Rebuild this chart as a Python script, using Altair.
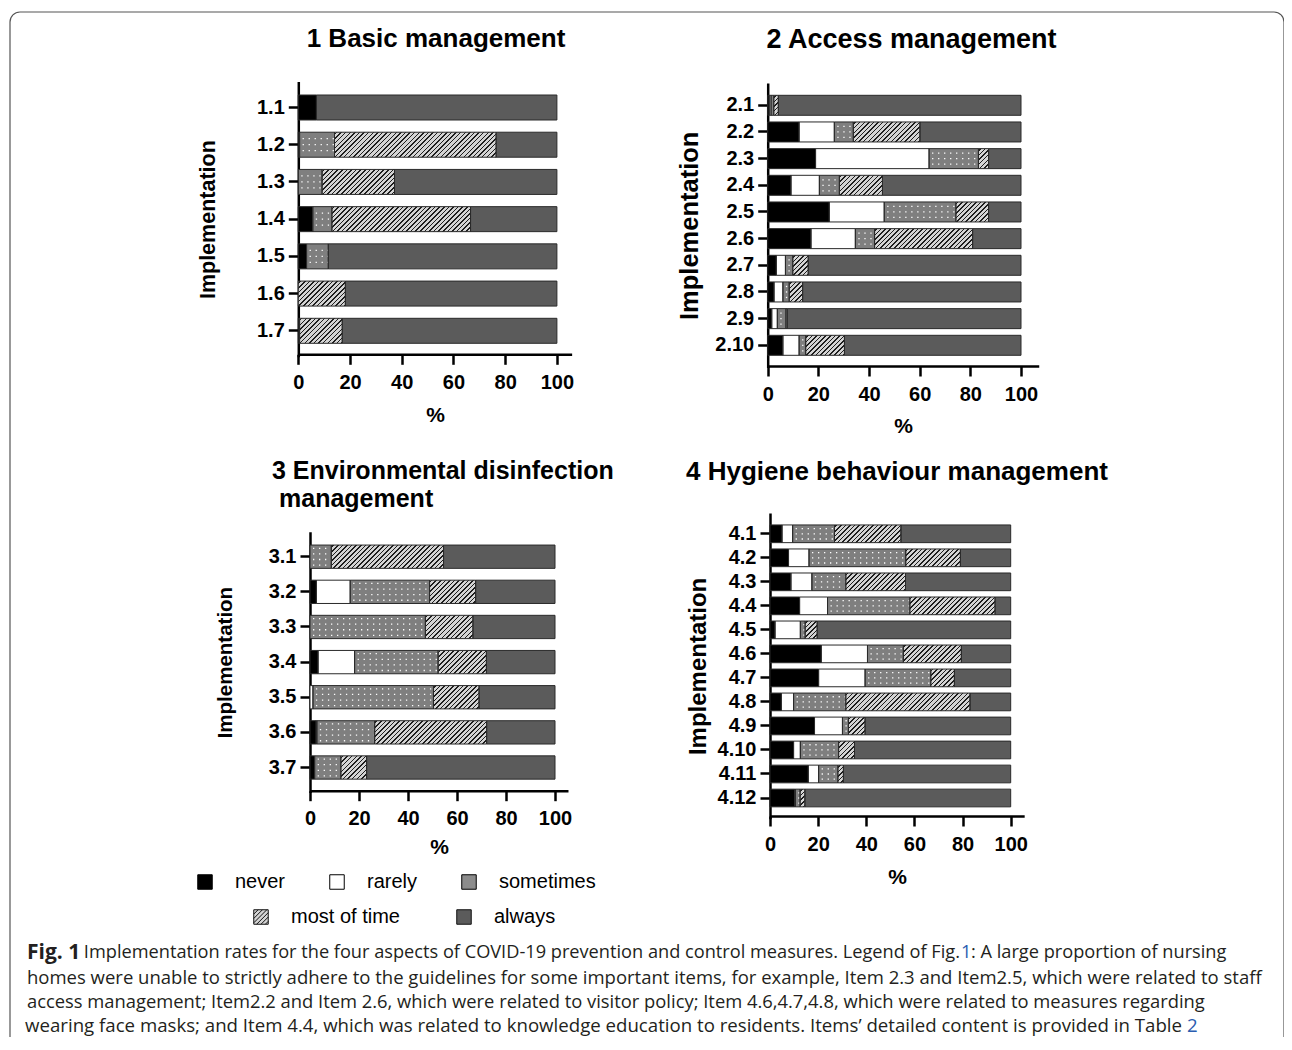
import math
import altair as alt
import pandas as pd

CATS = ["never", "rarely", "sometimes", "most of time", "always"]

# ---------------- data (percent of nursing homes) ----------------
p1_items = ["1.1", "1.2", "1.3", "1.4", "1.5", "1.6", "1.7"]
p1_never = [7.0, 0.5, 0, 5.6, 3.2, 0, 0.5]
p1_rarely = [0, 0, 0, 0, 0, 0, 0]
p1_sometimes = [0, 13.5, 9.2, 7.4, 8.4, 0, 0]
p1_most = [0, 62.5, 28.0, 53.6, 0, 18.2, 16.5]
p1_always = [93.0, 23.5, 62.8, 33.4, 88.4, 81.8, 83.0]

p2_items = ["2.1", "2.2", "2.3", "2.4", "2.5", "2.6", "2.7", "2.8", "2.9", "2.10"]
p2_never = [0.6, 12.4, 18.9, 9.2, 24.3, 17.1, 3.4, 2.5, 1.6, 6.0]
p2_rarely = [0.7, 13.9, 44.8, 11.2, 21.7, 17.5, 3.6, 3.5, 2.2, 6.4]
p2_sometimes = [1.1, 7.5, 19.5, 7.9, 28.3, 7.6, 2.9, 2.5, 3.4, 2.6]
p2_most = [1.8, 26.3, 4.0, 17.0, 12.9, 38.7, 6.1, 5.3, 0.5, 15.3]
p2_always = [95.8, 39.9, 12.8, 54.7, 12.8, 19.1, 84.0, 86.2, 92.3, 69.7]

p3_items = ["3.1", "3.2", "3.3", "3.4", "3.5", "3.6", "3.7"]
p3_never = [0, 2.6, 0, 3.3, 0, 2.5, 1.9]
p3_rarely = [0, 13.8, 0, 14.9, 1.2, 0.3, 0]
p3_sometimes = [8.7, 32.4, 47.1, 34.1, 49.2, 23.6, 10.7]
p3_most = [45.8, 18.8, 19.4, 19.7, 18.6, 45.7, 10.5]
p3_always = [45.5, 32.4, 33.5, 28.0, 31.0, 27.9, 76.9]

p4_items = ["4.1", "4.2", "4.3", "4.4", "4.5", "4.6", "4.7", "4.8", "4.9", "4.10", "4.11", "4.12"]
p4_never = [5.0, 7.7, 8.7, 12.3, 2.1, 21.3, 20.2, 4.7, 18.5, 9.8, 15.9, 10.3]
p4_rarely = [4.4, 8.5, 8.7, 11.6, 10.5, 19.2, 19.3, 5.1, 11.6, 2.8, 4.3, 0.2]
p4_sometimes = [17.4, 40.2, 14.1, 34.2, 2.0, 14.9, 27.3, 21.7, 2.5, 15.9, 8.0, 2.0]
p4_most = [27.6, 22.7, 24.8, 35.4, 5.0, 24.1, 9.8, 51.6, 6.9, 6.6, 2.3, 2.0]
p4_always = [45.6, 20.9, 43.7, 6.5, 80.4, 20.5, 23.4, 16.9, 60.5, 64.9, 69.5, 85.5]

panel_titles = ["1 Basic management", "2 Access management",
                "3 Environmental disinfection", "4 Hygiene behaviour management"]
panel3_title_line2 = "management"
y_title = "Implementation"
x_title = "%"
x_ticks = [0, 20, 40, 60, 80, 100]

caption_bold = "Fig. 1"
caption_l1a = "Implementation rates for the four aspects of COVID-19 prevention and control measures. Legend of Fig."
caption_l1b = "1"
caption_l1c = ": A large proportion of nursing"
caption_l2 = "homes were unable to strictly adhere to the guidelines for some important items, for example, Item 2.3 and Item2.5, which were related to staff"
caption_l3 = "access management; Item2.2 and Item 2.6, which were related to visitor policy; Item 4.6,4.7,4.8, which were related to measures regarding"
caption_l4a = "wearing face masks; and Item 4.4, which was related to knowledge education to residents. Items\u2019 detailed content is provided in Table"
caption_l4b = "2"

# ---------------- style / layout ----------------
COLORS = ["#000000", "#ffffff", "#7f7f7f", "#d4d4d4", "#5b5b5b"]
HATCH_BG = "#d4d4d4"
HATCH_LN = "#1e1e1e"
OUTLINE = "#2a2a2a"
FONT = "Liberation Sans"
W, H = 1274, 1025
OX, OY = 10, 12  # page position of the plot origin

GEOM = {
    1: dict(x0=298.3, s=2.586, xmax=105.7, c1=107.5, cn=330.8, bh=25.0, yt=81.5,
            xaxis=354.3, ytsize=21.5, ypad=37, xtpad=12, dots=[-6, 0, 6],
            title=dict(x=436, y=47, align="center", size=26)),
    2: dict(x0=767.7, s=2.533, xmax=107.0, c1=105.3, cn=345.3, bh=20.0, yt=83.0,
            xaxis=366.0, ytsize=25.5, ypad=12, xtpad=11, dots=[-5.5, 0, 5.5],
            title=dict(x=911.5, y=48, align="center", size=27)),
    3: dict(x0=310.0, s=2.45, xmax=105.3, c1=556.7, cn=767.5, bh=23.3, yt=531.7,
            xaxis=790.7, ytsize=20.5, ypad=33, xtpad=8, dots=[-8.4, -2.8, 2.8, 8.4],
            title=dict(x=272, y=479, align="left", size=25)),
    4: dict(x0=770.0, s=2.407, xmax=105.6, c1=533.8, cn=798.0, bh=17.7, yt=513.0,
            xaxis=816.0, ytsize=24, ypad=7, xtpad=12, dots=[-5.2, 0, 5.2],
            title=dict(x=897, y=480, align="center", size=26)),
}


def build_table(items, series):
    rows = []
    for i, it in enumerate(items):
        acc = 0.0
        for c, vals in zip(CATS, series):
            v = vals[i]
            if v > 0:
                rows.append({"item": it, "cat": c, "value": v, "start": acc, "end": acc + v})
            acc += v
    return pd.DataFrame(rows)


def hatch_gradient(w, h, period=4.6, lw=1.1):
    r = w / h
    P = period / math.sqrt(2)
    D = (w + h) / math.sqrt(2)
    N = int(math.ceil(D / P)) + 1
    f = D / (N * P)
    k = (r + 1) / ((r * r + 1) * f)
    half = lw / P / 2
    stops = []
    for i in range(N):
        a = (i + 0.5 - half) / N
        b = (i + 0.5 + half) / N
        stops += [(i / N, HATCH_BG), (a, HATCH_BG), (a, HATCH_LN), (b, HATCH_LN), (b, HATCH_BG)]
    stops.append((1.0, HATCH_BG))
    return {"gradient": "linear", "x1": 0, "y1": 0, "x2": k * r, "y2": k,
            "stops": [{"offset": round(o, 5), "color": c} for o, c in stops]}


def panel(pid, items, series):
    g = GEOM[pid]
    n = len(items)
    df = build_table(items, series)
    x_lo = g["x0"] - OX
    xs = alt.Scale(domain=[0, g["xmax"]], range=[x_lo, x_lo + g["xmax"] * g["s"]], nice=False, zero=False)
    step = (g["cn"] - g["c1"]) / (n - 1)
    E = g["c1"] - g["yt"]
    pI = 1 - g["bh"] / step
    pO = E / step - (1 - pI) / 2
    y0 = g["yt"] - OY
    ys = alt.Scale(type="band", domain=items, range=[y0, y0 + (n - 1) * step + 2 * E],
                   paddingInner=pI, paddingOuter=pO)
    xaxis = alt.Axis(orient="bottom", offset=(g["xaxis"] - OY) - H, values=x_ticks, title=x_title,
                     titleFontSize=21, titlePadding=g["xtpad"], labelPadding=8, tickSize=10,
                     labelFlush=False, labelOverlap=False)
    yaxis = alt.Axis(orient="left", offset=-(g["x0"] - OX), title=y_title, titleFontSize=g["ytsize"],
                     titlePadding=g["ypad"], labelPadding=4, tickSize=10, labelOverlap=False)

    def enc(ch, axis=False):
        return ch.encode(
            x=alt.X("start:Q", scale=xs, axis=xaxis if axis else None),
            x2="end:Q",
            y=alt.Y("item:N", scale=ys, axis=yaxis if axis else None),
        )

    base = enc(alt.Chart(df).mark_bar(strokeWidth=0)).encode(
        fill=alt.Fill("cat:N", scale=alt.Scale(domain=CATS, range=COLORS), legend=None)
    )
    layers = [base]
    for dy in g["dots"]:
        layers.append(enc(alt.Chart(df).transform_filter(alt.datum.cat == "sometimes").mark_rule(
            stroke="white", strokeWidth=1.3, strokeDash=[1.3, 4.7], strokeDashOffset=3, yOffset=dy)))
    bw = g["bh"]
    for _, row in df[df["cat"] == "most of time"].iterrows():
        wpx = row["value"] * g["s"]
        if wpx < 1.5:
            continue
        grad = hatch_gradient(wpx, bw)
        layers.append(enc(alt.Chart(df).transform_filter(
            (alt.datum.cat == "most of time") & (alt.datum.item == row["item"])
        ).mark_bar(fill=grad, strokeWidth=0)))
    # outlines, carrying the axes of the panel
    layers.append(enc(alt.Chart(df).mark_bar(fillOpacity=0, stroke=OUTLINE, strokeWidth=1), axis=True))
    return layers


all_layers = []
all_layers += panel(1, p1_items, [p1_never, p1_rarely, p1_sometimes, p1_most, p1_always])
all_layers += panel(2, p2_items, [p2_never, p2_rarely, p2_sometimes, p2_most, p2_always])
all_layers += panel(3, p3_items, [p3_never, p3_rarely, p3_sometimes, p3_most, p3_always])
all_layers += panel(4, p4_items, [p4_never, p4_rarely, p4_sometimes, p4_most, p4_always])

# ---------------- legends ----------------
HATCH_PATH = ("M-1,-1H1V1H-1Z M-1,-0.4L-0.4,-1 M-1,0.2L0.2,-1 M-1,0.8L0.8,-1 "
              "M-0.6,1L1,-0.6 M0,1L1,0 M0.6,1L1,0.6")
leg_common = dict(title=None, orient="none", direction="horizontal", symbolSize=210,
                  labelFont=FONT, labelFontSize=20, labelColor="black", labelOffset=20,
                  symbolStrokeColor="black", symbolStrokeWidth=1, padding=0,
                  labelFontWeight="normal", symbolOpacity=1)
legA = alt.Chart(pd.DataFrame({"cat": CATS[:3]})).transform_filter("false").mark_square(
    opacity=1, stroke="black", strokeWidth=1
).encode(
    fill=alt.Fill("cat:N", scale=alt.Scale(domain=CATS[:3], range=["#000000", "#ffffff", "#8c8c8c"]),
                  legend=alt.Legend(legendX=195 - OX, legendY=872 - OY, columns=3, columnPadding=41,
                                    symbolType="square", **leg_common))
)
legB_legend = alt.Legend(legendX=251 - OX, legendY=907 - OY, columns=2, columnPadding=54, **leg_common)
legB = alt.Chart(pd.DataFrame({"cat": CATS[3:]})).transform_filter("false").mark_point(
    filled=True, opacity=1, strokeWidth=1
).encode(
    fill=alt.Fill("cat:N", scale=alt.Scale(domain=CATS[3:], range=[HATCH_BG, "#5b5b5b"]), legend=legB_legend),
    shape=alt.Shape("cat:N", scale=alt.Scale(domain=CATS[3:], range=[HATCH_PATH, "square"]), legend=legB_legend),
    stroke=alt.Stroke("cat:N", scale=alt.Scale(domain=CATS[3:], range=["#111111", "#111111"]), legend=legB_legend),
)

# ---------------- border & texts ----------------
border = alt.Chart(pd.DataFrame({"k": [0]})).mark_rect(
    fillOpacity=0, stroke="#555555", strokeWidth=1.2, cornerRadius=10
).encode(x=alt.value(0), x2=alt.value(W), y=alt.value(0), y2=alt.value(H + 40))


def txt(t, x, y, size, weight="normal", align="left", baseline="alphabetic", font=FONT, color="black"):
    return alt.Chart(pd.DataFrame({"t": [t]})).mark_text(
        align=align, baseline=baseline, font=font, fontSize=size, fontWeight=weight, color=color
    ).encode(text="t:N", x=alt.value(x - OX), y=alt.value(y - OY))


texts = []
for pid, t in zip([1, 2, 3, 4], panel_titles):
    tg = GEOM[pid]["title"]
    texts.append(txt(t, tg["x"], tg["y"], tg["size"], "bold", tg["align"]))
texts.append(txt(panel3_title_line2, 279, 507, 25, "bold", "left"))

CAP_FONT = "Open Sans"
CAP_COL = "#231f20"
LINK = "#2a5db0"
cy = [952.5, 977.5, 1002, 1025.5]
texts.append(txt(caption_bold, 27, cy[0], 21, "bold", "left", "middle", CAP_FONT, CAP_COL))
texts.append(txt(caption_l1a, 960, cy[0], 18.2, "normal", "right", "middle", CAP_FONT, CAP_COL))
texts.append(txt(caption_l1b, 961, cy[0], 18.2, "normal", "left", "middle", CAP_FONT, LINK))
texts.append(txt(caption_l1c, 971, cy[0], 18.2, "normal", "left", "middle", CAP_FONT, CAP_COL))
texts.append(txt(caption_l2, 27, cy[1], 18.5, "normal", "left", "middle", CAP_FONT, CAP_COL))
texts.append(txt(caption_l3, 27, cy[2], 18.38, "normal", "left", "middle", CAP_FONT, CAP_COL))
texts.append(txt(caption_l4a, 1182, cy[3], 18.65, "normal", "right", "middle", CAP_FONT, CAP_COL))
texts.append(txt(caption_l4b, 1187, cy[3], 18.65, "normal", "left", "middle", CAP_FONT, LINK))

chart = alt.layer(*all_layers, legA, legB, border, *texts).resolve_scale(
    x="independent", y="independent", fill="independent", shape="independent", stroke="independent"
).properties(
    width=W, height=H,
    padding={"left": 2, "top": 4, "right": 0, "bottom": 0},
    autosize=alt.AutoSizeParams(type="none"),
).configure_view(stroke=None).configure_axis(
    domainColor="black", tickColor="black", labelColor="black", titleColor="black",
    labelFont=FONT, titleFont=FONT, labelFontWeight="bold", titleFontWeight="bold",
    labelFontSize=20, grid=False, domainWidth=2.5, tickWidth=2.5,
)

chart.save("out.html", embed_options={"renderer": "svg", "actions": False})
